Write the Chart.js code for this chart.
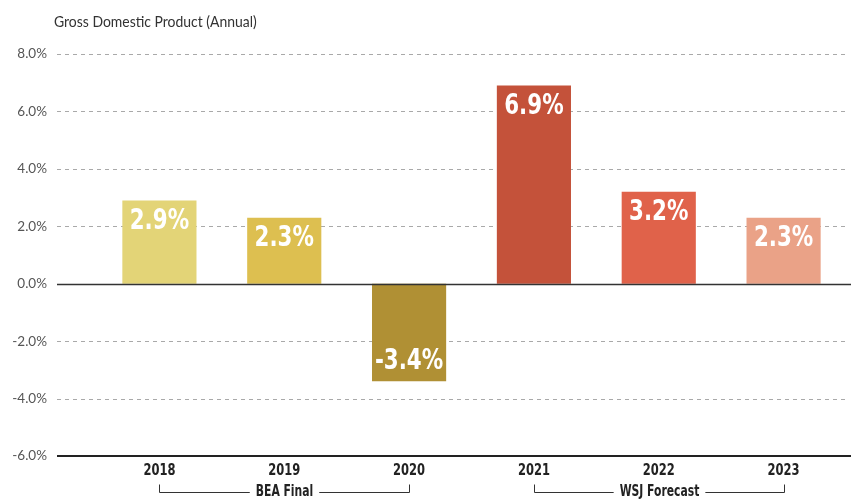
<!DOCTYPE html>
<html>
<head>
<meta charset="utf-8">
<script src="https://cdn.jsdelivr.net/npm/chart.js@4"></script>
<style>
  html, body { margin: 0; padding: 0; background: #fff; }
  #wrap { width: 851px; height: 501px; position: relative; }
</style>
</head>
<body>
<div id="wrap"><canvas id="gdpChart" width="851" height="501"></canvas></div>
<script>
const years = ["2018", "2019", "2020", "2021", "2022", "2023"];
const growth = [2.9, 2.3, -3.4, 6.9, 3.2, 2.3];
const barColors = ["#e3d477", "#ddbf50", "#b09034", "#c4523a", "#e0624a", "#eaa287"];
const yTicks = [-6, -4, -2, 0, 2, 4, 6, 8];
const groupLabels = ["BEA Final", "WSJ Forecast"];
const groupStart = ["2018", "2021"];
const groupEnd = ["2020", "2023"];
const title = "Gross Domestic Product (Annual)";

const COND = '"DejaVu Sans Condensed", Roboto, sans-serif';
const HUMAN = 'Lato, "Open Sans", sans-serif';
const GRID_LEFT = 57;

// condensed text: squeeze horizontally around (x, y)
const narrowText = (ctx, text, x, y, squeeze) => {
  ctx.save();
  ctx.translate(x, y);
  ctx.scale(squeeze, 1);
  ctx.fillText(text, 0, 0);
  ctx.restore();
};

const linesPlugin = {
  id: "lines",
  beforeDatasetsDraw(chart) {
    const { ctx, scales: { y }, width } = chart;
    ctx.save();
    ctx.strokeStyle = "#a9a9a9";
    ctx.lineWidth = 1;
    ctx.setLineDash([4, 4]);
    for (const v of yTicks) {
      if (v === 0 || v === yTicks[0]) continue;
      const py = Math.round(y.getPixelForValue(v)) + 0.5;
      ctx.beginPath();
      ctx.moveTo(GRID_LEFT, py);
      ctx.lineTo(width - 3, py);
      ctx.stroke();
    }
    ctx.restore();
  },
  afterDatasetsDraw(chart) {
    const { ctx, scales: { x, y }, width } = chart;
    ctx.save();
    const zy = Math.round(y.getPixelForValue(0)) + 0.5;
    ctx.strokeStyle = "#333";
    ctx.lineWidth = 1.5;
    ctx.beginPath();
    ctx.moveTo(GRID_LEFT, zy);
    ctx.lineTo(width, zy);
    ctx.stroke();
    const by = Math.round(y.getPixelForValue(yTicks[0]));
    ctx.strokeStyle = "#222";
    ctx.lineWidth = 2;
    ctx.beginPath();
    ctx.moveTo(GRID_LEFT, by);
    ctx.lineTo(width, by);
    ctx.stroke();

    // value labels
    const meta = chart.getDatasetMeta(0);
    ctx.fillStyle = "#fff";
    ctx.font = "bold 28px " + COND;
    ctx.textAlign = "center";
    ctx.textBaseline = "middle";
    meta.data.forEach((bar, i) => {
      const v = growth[i];
      const ty = v >= 0 ? bar.y + 21 : bar.y - 20;
      narrowText(ctx, v.toFixed(1) + "%", bar.x, ty, 0.85);
    });

    // year labels
    ctx.fillStyle = "#222";
    ctx.font = "bold 16px " + COND;
    years.forEach((yr, i) => {
      narrowText(ctx, yr, x.getPixelForValue(i), by + 15, 0.8);
    });

    // group brackets
    const lineY = 492.5;
    ctx.strokeStyle = "#333";
    ctx.lineWidth = 1;
    ctx.font = "bold 15px " + COND;
    groupLabels.forEach((g, i) => {
      const x0 = Math.round(x.getPixelForValue(years.indexOf(groupStart[i]))) + 0.5;
      const x1 = Math.round(x.getPixelForValue(years.indexOf(groupEnd[i]))) + 0.5;
      const cx = (x0 + x1) / 2;
      const tw = ctx.measureText(g).width * 0.8;
      ctx.beginPath();
      ctx.moveTo(x0, lineY - 8);
      ctx.lineTo(x0, lineY);
      ctx.lineTo(cx - tw / 2 - 6, lineY);
      ctx.moveTo(cx + tw / 2 + 6, lineY);
      ctx.lineTo(x1, lineY);
      ctx.lineTo(x1, lineY - 8);
      ctx.stroke();
      narrowText(ctx, g, cx, lineY, 0.8);
    });

    // title
    ctx.font = "15px " + HUMAN;
    ctx.fillStyle = "#333";
    ctx.textAlign = "left";
    ctx.textBaseline = "alphabetic";
    narrowText(ctx, title, 54, 27, 0.93);
    ctx.restore();
  },
};

new Chart(document.getElementById("gdpChart"), {
  type: "bar",
  data: {
    labels: years,
    datasets: [
      {
        data: growth,
        backgroundColor: barColors,
        borderWidth: 0,
        categoryPercentage: 0.594,
        barPercentage: 1,
      },
    ],
  },
  options: {
    responsive: false,
    animation: false,
    events: [],
    layout: { padding: { top: 54, right: 5, bottom: 0, left: 0 } },
    plugins: { legend: { display: false }, tooltip: { enabled: false }, title: { display: false } },
    scales: {
      x: {
        grid: { display: false, drawTicks: false },
        border: { display: false },
        ticks: { display: false },
        afterFit(scale) {
          scale.height = 45;
        },
      },
      y: {
        min: yTicks[0],
        max: yTicks[yTicks.length - 1],
        grid: { display: false, drawTicks: false },
        border: { display: false },
        afterBuildTicks(scale) {
          scale.ticks = yTicks.map((v) => ({ value: v }));
        },
        ticks: {
          padding: 50,
          color: "#555",
          font: { family: HUMAN, size: 13.5 },
          callback: (v) => Number(v).toFixed(1) + "%",
        },
        afterFit(scale) {
          scale.width = 97;
          scale.paddingTop = 0;
          scale.paddingBottom = 0;
        },
      },
    },
  },
  plugins: [linesPlugin],
});
</script>
</body>
</html>
